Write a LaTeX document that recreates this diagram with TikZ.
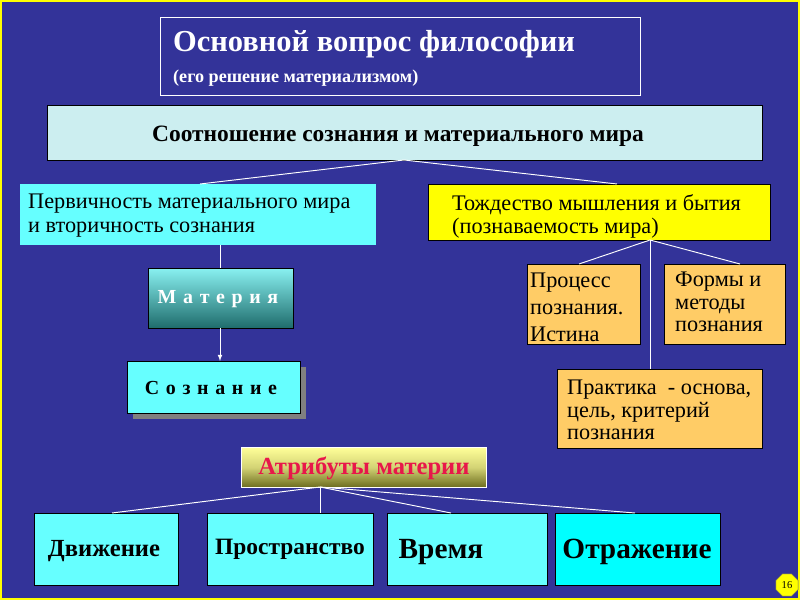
\documentclass[tikz,border=0pt]{standalone}
\usepackage{fontspec}
\setmainfont{Liberation Serif}
\usetikzlibrary{shapes.geometric}
\definecolor{bg}{HTML}{333399}
\definecolor{cy}{HTML}{66FFFF}
\definecolor{cy2}{HTML}{00FFFF}
\definecolor{pale}{HTML}{CCEEF0}
\definecolor{org}{HTML}{FFCC66}
\definecolor{yel}{HTML}{FFFF00}
\definecolor{tealA}{HTML}{88F0F0}
\definecolor{tealB}{HTML}{1E6B6B}
\definecolor{olA}{HTML}{FFFF99}
\definecolor{olB}{HTML}{6B6B1E}
\definecolor{redt}{HTML}{E8174A}
\tikzset{
 box/.style={draw=black, line width=0.8pt, anchor=north west, inner sep=0pt},
 conn/.style={draw=white, line width=0.8pt}
}
\begin{document}
\begin{tikzpicture}[x=0.03cm,y=-0.03cm]
\fill[bg] (0,0) rectangle (800,600);
\draw[yel, line width=1.2pt] (1,1) rectangle (799,599);
% title
\node[box, draw=white, fill=bg, minimum width=480*0.03cm, minimum height=78*0.03cm] (title) at (160,17) {};
\node[anchor=west, text=white, font=\bfseries\fontsize{26}{26}\selectfont] (t1) at (169,44) {Основной вопрос философии};
\node[anchor=west, text=white, font=\bfseries\fontsize{15.5}{16}\selectfont] (t2) at (169,78) {(его решение материализмом)};
% banner
\node[box, fill=pale, minimum width=715*0.03cm, minimum height=55*0.03cm] (ban) at (47,105) {};
\node[font=\bfseries\fontsize{20}{20}\selectfont] (bant) at (398,136) {Соотношение сознания и материального мира};
% left
\node[box, draw=none, fill=cy, minimum width=356*0.03cm, minimum height=61*0.03cm] (L) at (20,184) {};
\node[anchor=north west, align=left, font=\fontsize{19}{20}\selectfont, inner sep=0pt] (Lt) at (28,194) {Первичность материального мира\\и вторичность сознания};
% right
\node[box, fill=yel, minimum width=342*0.03cm, minimum height=56*0.03cm] (R) at (428,184) {};
\node[anchor=north west, align=left, font=\fontsize{19}{20}\selectfont, inner sep=0pt] (Rt) at (452,194) {Тождество мышления и бытия\\(познаваемость мира)};
% materia
\node[box, top color=tealA, bottom color=tealB, minimum width=145*0.03cm, minimum height=60*0.03cm] (M) at (148,268) {};
\node[text=white, font=\bfseries\fontsize{17}{17}\selectfont] (Mt) at (218,299) {М\,\,а\,\,т\,\,е\,\,р\,\,и\,\,я};
% soznanie
\fill[gray] (133,367) rectangle (306,419);
\node[box, fill=cy, minimum width=173*0.03cm, minimum height=52*0.03cm] (S) at (127,361) {};
\node[font=\bfseries\fontsize{17}{17}\selectfont] (St) at (211,388) {С\,\,о\,\,з\,\,н\,\,а\,\,н\,\,и\,\,е};
% orange
\node[box, fill=org, minimum width=113*0.03cm, minimum height=80*0.03cm] (P) at (527,264) {};
\node[anchor=north west, align=left, font=\fontsize{19}{23}\selectfont, inner sep=0pt] (Pt) at (530,273) {Процесс\\познания.\\Истина};
\node[box, fill=org, minimum width=121*0.03cm, minimum height=80*0.03cm] (F) at (664,264) {};
\node[anchor=north west, align=left, font=\fontsize{19}{19}\selectfont, inner sep=0pt] (Ft) at (675,272) {Формы и\\методы\\познания};
\node[box, fill=org, minimum width=205*0.03cm, minimum height=79*0.03cm] (Pr) at (557,369) {};
\node[anchor=north west, align=left, font=\fontsize{19}{19}\selectfont, inner sep=0pt] (Prt) at (567,380) {Практика\ \ - основа,\\цель, критерий\\познания};
% attributes
\node[box, draw=white, top color=olA, bottom color=olB, middle color=olA!70!olB, minimum width=245*0.03cm, minimum height=40*0.03cm] (A) at (241,447) {};
\node[text=redt, font=\bfseries\fontsize{21}{21}\selectfont] (At) at (364,468) {Атрибуты материи};
% bottom
\node[box, fill=cy, minimum width=144*0.03cm, minimum height=72*0.03cm] (B1) at (34,513) {};
\node[font=\bfseries\fontsize{21}{21}\selectfont] (B1t) at (104,551) {Движение};
\node[box, fill=cy, minimum width=166*0.03cm, minimum height=72*0.03cm] (B2) at (207,513) {};
\node[font=\bfseries\fontsize{20}{20}\selectfont] (B2t) at (290,549) {Пространство};
\node[box, fill=cy, minimum width=160*0.03cm, minimum height=72*0.03cm] (B3) at (387,513) {};
\node[font=\bfseries\fontsize{25}{25}\selectfont] (B3t) at (441,552) {Время};
\node[box, fill=cy2, minimum width=165*0.03cm, minimum height=72*0.03cm] (B4) at (555,513) {};
\node[font=\bfseries\fontsize{25}{25}\selectfont] (B4t) at (637,552) {Отражение};
% badge
\node[regular polygon, regular polygon sides=8, fill=yel, draw=black!60, inner sep=0pt, minimum size=0.72cm, font=\fontsize{9}{9}\selectfont] (badge) at (787,585) {16};
% connectors
\coordinate (bs) at (404,160);
\draw[conn] (bs) -- (200,184);
\draw[conn] (bs) -- (617,184);
\draw[conn] (220,245) -- (220,268);
\draw[conn, -latex] (220,328) -- (220,361);
\coordinate (rs) at (650,240);
\draw[conn] (rs) -- (579,264);
\draw[conn] (rs) -- (740,264);
\draw[conn] (rs) -- (650,369);
\coordinate (as) at (320,487);
\draw[conn] (as) -- (112,513);
\draw[conn] (as) -- (320,513);
\draw[conn] (as) -- (451,513);
\draw[conn] (as) -- (635,513);
\end{tikzpicture}
\end{document}
